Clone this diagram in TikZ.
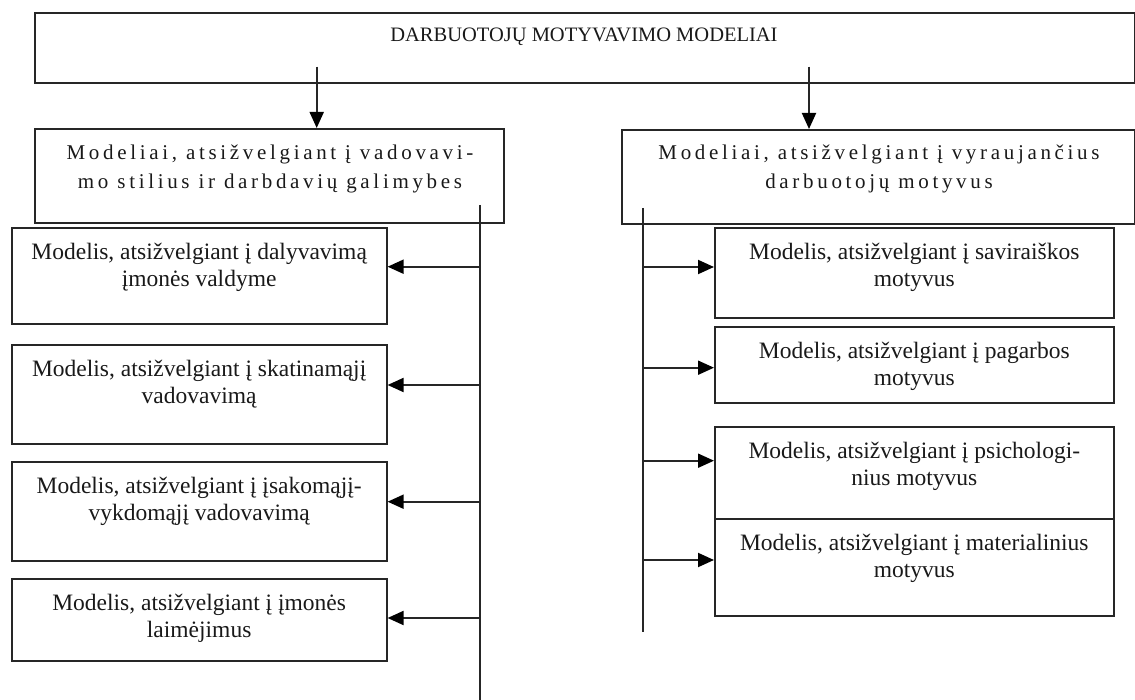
\documentclass[tikz,border=0pt]{standalone}
\usepackage{fontspec}
\setmainfont{Liberation Serif}
\newfontfamily\spacedserif[LetterSpace=17.5]{Liberation Serif}
\usetikzlibrary{arrows.meta}
\begin{document}
\begin{tikzpicture}[x=1pt,y=-1pt,
  frame/.style={draw=black!85, line width=1.9pt, rectangle, inner sep=0pt, anchor=north west},
  boxtext/.style={font=\fontsize{23.5}{27}\selectfont, text=black!90, align=center, anchor=base, inner sep=0pt},
  headtext/.style={font=\spacedserif\fontsize{21}{29}\selectfont, text=black!90, align=center, anchor=base, inner sep=0pt},
  link/.style={draw=black!85, line width=1.9pt},
  arr/.style={link, -{Triangle[length=16pt,width=14pt,color=black]}}]
\useasboundingbox (0,0) rectangle (1135,700);

% title box
\node[frame, minimum width=1100, minimum height=70] (top) at (34,11.7) {};
\node[font=\fontsize{20.5}{24}\selectfont, text=black!90, anchor=base, inner sep=0pt] (topt) at (584,41.7) {DARBUOTOJŲ MOTYVAVIMO MODELIAI};

% two group headers (base anchor sits on the last line)
\node[frame, minimum width=469, minimum height=94] (lhead) at (34,128) {};
\node[headtext] (lheadt) at (270,189) {Modeliai, atsižvelgiant į vadovavi-\\mo stilius ir darbdavių galimybes};
\node[frame, minimum width=513.3, minimum height=93.7] (rhead) at (620.7,129) {};
\node[headtext] (rheadt) at (879,189) {Modeliai, atsižvelgiant į vyraujančius\\darbuotojų motyvus};

% left column
\node[frame, minimum width=375, minimum height=96.3] (L1) at (10.7,226.7) {};
\node[frame, minimum width=375, minimum height=99] (L2) at (10.7,344) {};
\node[frame, minimum width=375, minimum height=99] (L3) at (10.7,461) {};
\node[frame, minimum width=375, minimum height=82.3] (L4) at (10.7,577.7) {};
\node[boxtext] (L1t) at ([yshift=-59.5pt]L1.north) {Modelis, atsižvelgiant į dalyvavimą\\įmonės valdyme};
\node[boxtext] (L2t) at ([yshift=-59.5pt]L2.north) {Modelis, atsižvelgiant į skatinamąjį\\vadovavimą};
\node[boxtext] (L3t) at ([yshift=-59.5pt]L3.north) {Modelis, atsižvelgiant į įsakomąjį-\\vykdomąjį vadovavimą};
\node[boxtext] (L4t) at ([yshift=-59.5pt]L4.north) {Modelis, atsižvelgiant į įmonės\\laimėjimus};

% right column
\node[frame, minimum width=398.7, minimum height=90] (R1) at (714,226.7) {};
\node[frame, minimum width=398.7, minimum height=76.3] (R2) at (714,325.7) {};
\node[frame, minimum width=398.7, minimum height=92] (R3) at (714,426) {};
\node[frame, minimum width=398.7, minimum height=97] (R4) at (714,518) {};
\node[boxtext] (R1t) at ([yshift=-59.5pt]R1.north) {Modelis, atsižvelgiant į saviraiškos\\motyvus};
\node[boxtext] (R2t) at ([yshift=-59.5pt]R2.north) {Modelis, atsižvelgiant į pagarbos\\motyvus};
\node[boxtext] (R3t) at ([yshift=-59.5pt]R3.north) {Modelis, atsižvelgiant į psichologi-\\nius motyvus};
\node[boxtext] (R4t) at ([yshift=-59.5pt]R4.north) {Modelis, atsižvelgiant į materialinius\\motyvus};

% arrows from the title box
\coordinate (tl) at (316.7,66.7);
\coordinate (tr) at (809,66.7);
\draw[arr] (tl) -- (tl |- lhead.north);
\draw[arr] (tr) -- (tr |- rhead.north);

% left spine and its branches
\coordinate (ls) at (480,205);
\coordinate (le) at (480,700);
\draw[link] (ls) -- (le);
\coordinate (la1) at (480,266.7);
\coordinate (la2) at (480,385);
\coordinate (la3) at (480,501.7);
\coordinate (la4) at (480,618);
\draw[arr] (la1) -- (la1 -| L1.east);
\draw[arr] (la2) -- (la2 -| L2.east);
\draw[arr] (la3) -- (la3 -| L3.east);
\draw[arr] (la4) -- (la4 -| L4.east);

% right spine and its branches
\coordinate (rs) at (643,208);
\coordinate (re) at (643,632);
\draw[link] (rs) -- (re);
\coordinate (ra1) at (643,267);
\coordinate (ra2) at (643,367.7);
\coordinate (ra3) at (643,460.7);
\coordinate (ra4) at (643,560);
\draw[arr] (ra1) -- (ra1 -| R1.west);
\draw[arr] (ra2) -- (ra2 -| R2.west);
\draw[arr] (ra3) -- (ra3 -| R3.west);
\draw[arr] (ra4) -- (ra4 -| R4.west);
\end{tikzpicture}
\end{document}
